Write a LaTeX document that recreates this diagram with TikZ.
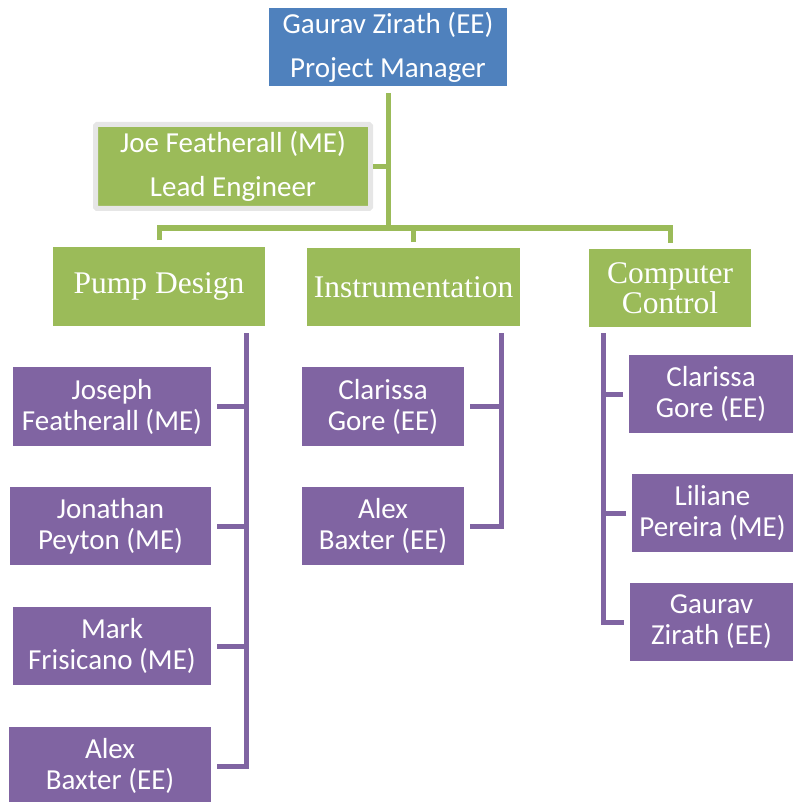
\documentclass[tikz,border=0pt]{standalone}
\usepackage{fontspec}
\setmainfont{Carlito}
\newfontfamily\hdrfont{Liberation Serif}
\definecolor{pmblue}{HTML}{4F81BD}
\definecolor{grn}{HTML}{9BBB59}
\definecolor{purp}{HTML}{8064A2}
\definecolor{frame}{HTML}{E6E6E6}
\begin{document}
\begin{tikzpicture}[x=1pt,y=-1pt,
  box/.style={inner sep=0pt, outer sep=0pt, align=center, text=white, anchor=north west},
  pbox/.style={box, fill=purp, font=\fontsize{29}{31}\selectfont},
  gbox/.style={box, fill=grn, font=\hdrfont\fontsize{31.5}{30}\selectfont},
  topbox/.style={box, font=\fontsize{29}{44}\selectfont},
  gline/.style={draw=grn, line width=5pt},
  pline/.style={draw=purp, line width=5pt}]
\useasboundingbox (0,0) rectangle (793,802);

% top
\node[topbox, fill=pmblue, minimum width=238pt, minimum height=78pt] (pm) at (269,8) {Gaurav Zirath (EE)\\Project Manager};
\node[topbox, fill=grn, draw=frame, line width=5pt, rounded corners=1.5pt, minimum width=275pt, minimum height=84pt] (lead) at (95.5,124.5) {Joe Featherall (ME)\\Lead Engineer};

% branches
\node[gbox, minimum width=212pt, minimum height=79pt] (pd) at (53,247) {Pump Design};
\node[gbox, minimum width=213pt, minimum height=78pt] (ins) at (307,248) {Instrumentation};
\node[gbox, minimum width=162pt, minimum height=78pt] (cc) at (589,249) {Computer\\Control};

% pump design members
\node[pbox, minimum width=198pt, minimum height=79pt] (j1) at (13,367) {Joseph\\Featherall (ME)};
\node[pbox, minimum width=201pt, minimum height=78pt] (j2) at (10,487) {Jonathan\\Peyton (ME)};
\node[pbox, minimum width=198pt, minimum height=78pt] (j3) at (13,607) {Mark\\Frisicano (ME)};
\node[pbox, minimum width=202pt, minimum height=78pt] (j4) at (9,727) {Alex\\Baxter (EE)};

% instrumentation members
\node[pbox, minimum width=162pt, minimum height=79pt] (i1) at (302,367) {Clarissa\\Gore (EE)};
\node[pbox, minimum width=162pt, minimum height=78pt] (i2) at (302,487) {Alex\\Baxter (EE)};

% computer control members
\node[pbox, minimum width=164pt, minimum height=78pt] (c1) at (629,355) {Clarissa\\Gore (EE)};
\node[pbox, minimum width=161pt, minimum height=78pt] (c2) at (632,474) {Liliane\\Pereira (ME)};
\node[pbox, minimum width=163pt, minimum height=78pt] (c3) at (630,583) {Gaurav\\Zirath (EE)};

% green connectors
\coordinate (hub) at (388,228);
\draw[gline] ([yshift=-7pt]pm.south) -- (hub);
\draw[gline] ([xshift=2.5pt]lead.east) -- (lead.east -| hub);
\draw[gline] ([yshift=7pt]pd.north) |- (hub) -| ([yshift=6pt]cc.north);
\draw[gline] ([yshift=6pt]ins.north) -- (ins.north |- hub);

% purple connectors
\coordinate (ptop) at (246,333);
\draw[pline] (ptop) |- ([xshift=6pt]j4.east);
\foreach \m in {j1,j2,j3} \draw[pline] ([xshift=6pt]\m.east) -- (\m.east -| ptop);

\coordinate (itop) at (501,333);
\draw[pline] (itop) |- ([xshift=6pt]i2.east);
\draw[pline] ([xshift=6pt]i1.east) -- (i1.east -| itop);

\coordinate (ctop) at (603,333);
\draw[pline] (ctop) |- ([xshift=-6pt]c3.west);
\foreach \m in {c1,c2} \draw[pline] ([xshift=-6pt]\m.west) -- (\m.west -| ctop);
\end{tikzpicture}
\end{document}
